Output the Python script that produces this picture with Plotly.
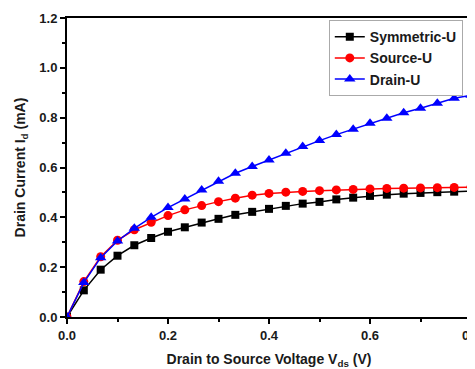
import plotly.graph_objects as go

vds = [0, 0.0333, 0.0667, 0.1, 0.1333, 0.1667, 0.2, 0.2333, 0.2667, 0.3, 0.3333,
       0.3667, 0.4, 0.4333, 0.4667, 0.5, 0.5333, 0.5667, 0.6, 0.6333, 0.6667,
       0.7, 0.7333, 0.7667, 0.8]
symmetric_u = [0, 0.107, 0.19, 0.246, 0.288, 0.317, 0.342, 0.36, 0.379, 0.394, 0.41,
               0.422, 0.434, 0.446, 0.455, 0.462, 0.472, 0.479, 0.486, 0.491, 0.495,
               0.498, 0.501, 0.503, 0.505]
source_u = [0, 0.142, 0.242, 0.308, 0.35, 0.38, 0.407, 0.43, 0.447, 0.463, 0.477,
            0.489, 0.496, 0.501, 0.504, 0.507, 0.51, 0.512, 0.514, 0.516, 0.517,
            0.518, 0.519, 0.52, 0.521]
drain_u = [0, 0.138, 0.238, 0.305, 0.356, 0.4, 0.439, 0.474, 0.51, 0.545, 0.577,
           0.604, 0.63, 0.657, 0.684, 0.708, 0.732, 0.754, 0.778, 0.798, 0.82,
           0.838, 0.858, 0.878, 0.89]

FONT = "Arial, 'Liberation Sans', sans-serif"
TXT = "#1a1a1a"

fig = go.Figure()
fig.add_trace(go.Scatter(x=vds, y=symmetric_u, name="Symmetric-U", mode="lines+markers",
                         line=dict(color="black", width=1.5),
                         marker=dict(symbol="square", size=8, color="black")))
fig.add_trace(go.Scatter(x=vds, y=source_u, name="Source-U", mode="lines+markers",
                         line=dict(color="red", width=1.5),
                         marker=dict(symbol="circle", size=9, color="red")))
fig.add_trace(go.Scatter(x=vds, y=drain_u, name="Drain-U", mode="lines+markers",
                         line=dict(color="blue", width=1.5),
                         marker=dict(symbol="triangle-up", size=10, color="blue")))

axis_common = dict(
    showgrid=False, zeroline=False, showline=True, linecolor="black", linewidth=2,
    mirror=True, ticks="outside", ticklen=5, tickwidth=2, tickcolor="black",
    tickfont=dict(family=FONT, size=13, color=TXT, weight="bold"),
    minor=dict(ticks="outside", ticklen=3, tickwidth=2, tickcolor="black", dtick=0.1),
    automargin=False, ticklabeloverflow="allow",
)

fig.update_xaxes(range=[0, 0.8], dtick=0.2, tickformat=".1f",
                 title=dict(text="Drain to Source Voltage V<sub>ds</sub> (V)",
                            font=dict(family=FONT, size=14, color=TXT, weight="bold"),
                            standoff=13),
                 **axis_common)
fig.update_yaxes(range=[0, 1.2], dtick=0.2, tickformat=".1f",
                 title=dict(text="Drain Current I<sub>d</sub> (mA)",
                            font=dict(family=FONT, size=14, color=TXT, weight="bold"),
                            standoff=10),
                 **axis_common)

# page body has an 8px margin, so the figure is sized/placed to compensate
fig.update_layout(
    width=467, height=361,
    margin=dict(l=59, r=4, t=10, b=52, autoexpand=False),
    plot_bgcolor="white", paper_bgcolor="white",
    showlegend=True,
    legend=dict(x=0.648, y=0.993, xanchor="left", yanchor="top",
                bordercolor="#aaa", borderwidth=1, bgcolor="white",
                font=dict(family=FONT, size=14, color=TXT, weight="bold"),
                tracegroupgap=0, itemwidth=30),
)

fig.write_html("out.html")
